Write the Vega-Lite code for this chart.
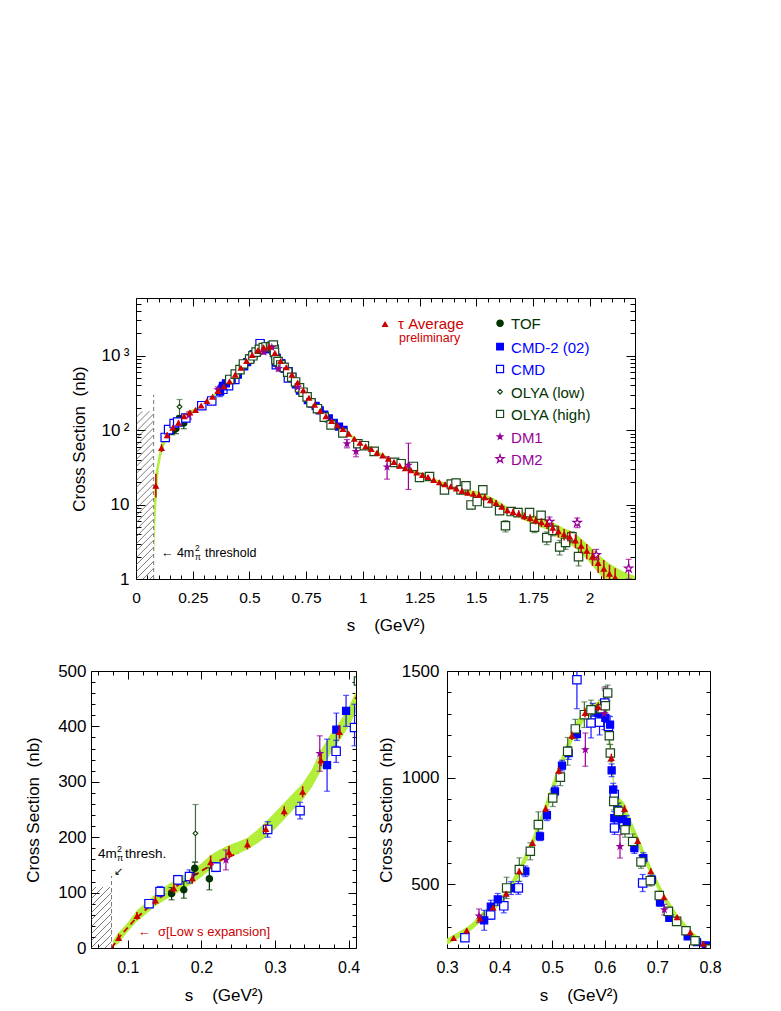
{
"$schema": "https://vega.github.io/schema/vega-lite/v6.json",
"padding": {"left": 24, "top": 297, "right": 0, "bottom": 0},
"background": "white",
"config": {
  "font": "Liberation Sans",
  "view": {"stroke": "black", "strokeWidth": 1},
  "axis": {"domain": false, "grid": false, "tickColor": "black", "tickWidth": 1, "labelColor": "black", "titleColor": "black", "titleFontWeight": "normal", "labelFontSize": 16, "titleFontSize": 17, "labelOverlap": false, "labelFlush": false, "labelFont": "Liberation Sans", "titleFont": "Liberation Sans"}
},
"datasets": {
  "tau": [
    {"s":0.0875,"v":18,"lo":12.5,"hi":26},{"s":0.1125,"v":58,"lo":51,"hi":65},{"s":0.1375,"v":86,"lo":78,"hi":94},{"s":0.1625,"v":108,"lo":99,"hi":117},{"s":0.1875,"v":126,"lo":116,"hi":136},{"s":0.2125,"v":155,"lo":143,"hi":167},{"s":0.2375,"v":173,"lo":162,"hi":184},{"s":0.2625,"v":187,"lo":178,"hi":196},{"s":0.2875,"v":215,"lo":206,"hi":224},{"s":0.3125,"v":247,"lo":238,"hi":256},{"s":0.3375,"v":282,"lo":272,"hi":292},{"s":0.3625,"v":339,"lo":328,"hi":350},{"s":0.3875,"v":390,"lo":378,"hi":402},{"s":0.4125,"v":455,"lo":442,"hi":468},{"s":0.4375,"v":560,"lo":546,"hi":574},{"s":0.4625,"v":693,"lo":678,"hi":708},{"s":0.4875,"v":854,"lo":838,"hi":870},{"s":0.5125,"v":1032,"lo":1014,"hi":1050},{"s":0.5375,"v":1196,"lo":1176,"hi":1216},{"s":0.5625,"v":1303,"lo":1282,"hi":1324},{"s":0.5875,"v":1331,"lo":1310,"hi":1352},{"s":0.6125,"v":1092,"lo":1072,"hi":1112},{"s":0.6375,"v":853,"lo":836,"hi":870},{"s":0.6625,"v":703,"lo":688,"hi":718},{"s":0.6875,"v":560,"lo":546,"hi":574},{"s":0.7125,"v":438,"lo":426,"hi":450},{"s":0.7375,"v":345,"lo":335,"hi":355},{"s":0.7625,"v":274,"lo":265,"hi":283},{"s":0.7875,"v":220,"lo":212,"hi":228},
    {"s":0.8125,"v":182,"lo":175,"hi":189},{"s":0.8375,"v":155,"lo":149,"hi":161},{"s":0.8625,"v":133,"lo":128,"hi":138},{"s":0.8875,"v":117,"lo":112,"hi":122},{"s":0.9125,"v":104,"lo":100,"hi":108},{"s":0.9375,"v":90,"lo":86,"hi":94},{"s":0.9625,"v":77,"lo":74,"hi":80},{"s":0.9875,"v":68,"lo":65,"hi":71},{"s":1.0125,"v":61,"lo":58,"hi":64},{"s":1.0375,"v":56,"lo":53,"hi":59},{"s":1.0625,"v":50,"lo":47.5,"hi":52.5},{"s":1.0875,"v":46,"lo":43.5,"hi":48.5},{"s":1.1125,"v":41.5,"lo":39,"hi":44},{"s":1.1375,"v":37.5,"lo":35.5,"hi":39.5},{"s":1.1625,"v":33.5,"lo":31.5,"hi":35.5},{"s":1.1875,"v":31,"lo":29,"hi":33},{"s":1.2125,"v":29,"lo":27.2,"hi":30.8},{"s":1.2375,"v":27,"lo":25.3,"hi":28.7},{"s":1.2625,"v":25,"lo":23.4,"hi":26.6},{"s":1.2875,"v":23.5,"lo":22,"hi":25},{"s":1.3125,"v":21.5,"lo":20,"hi":23},{"s":1.3375,"v":20,"lo":18.6,"hi":21.4},{"s":1.3625,"v":18.8,"lo":17.4,"hi":20.2},{"s":1.3875,"v":17.5,"lo":16.2,"hi":18.8},{"s":1.4125,"v":16.5,"lo":15.2,"hi":17.8},{"s":1.4375,"v":15.3,"lo":14.1,"hi":16.5},{"s":1.4625,"v":14.5,"lo":13.3,"hi":15.7},{"s":1.4875,"v":14,"lo":12.8,"hi":15.2},{"s":1.5125,"v":13.5,"lo":12.3,"hi":14.7},{"s":1.5375,"v":12.6,"lo":11.4,"hi":13.8},{"s":1.5625,"v":11.5,"lo":10.4,"hi":12.6},{"s":1.5875,"v":10.5,"lo":9.5,"hi":11.5},{"s":1.6125,"v":9.4,"lo":8.5,"hi":10.3},{"s":1.6375,"v":8.4,"lo":7.6,"hi":9.2},{"s":1.6625,"v":8.0,"lo":7.2,"hi":8.8},{"s":1.6875,"v":7.6,"lo":6.8,"hi":8.4},{"s":1.7125,"v":7.0,"lo":6.2,"hi":7.8},{"s":1.7375,"v":6.6,"lo":5.8,"hi":7.4},{"s":1.7625,"v":6.2,"lo":5.4,"hi":7.0},{"s":1.7875,"v":5.8,"lo":5.0,"hi":6.6},{"s":1.8125,"v":5.5,"lo":4.7,"hi":6.3},{"s":1.8375,"v":4.9,"lo":4.1,"hi":5.7},{"s":1.8625,"v":4.4,"lo":3.6,"hi":5.2},{"s":1.8875,"v":4.0,"lo":3.3,"hi":4.7},{"s":1.9125,"v":3.7,"lo":3.0,"hi":4.4},{"s":1.9375,"v":3.3,"lo":2.6,"hi":4.0},{"s":1.9625,"v":2.8,"lo":2.2,"hi":3.4},{"s":1.9875,"v":2.4,"lo":1.85,"hi":2.95},{"s":2.0125,"v":2.0,"lo":1.5,"hi":2.5},{"s":2.0375,"v":1.65,"lo":1.2,"hi":2.1},{"s":2.0625,"v":1.38,"lo":0.95,"hi":1.8},{"s":2.0875,"v":1.18,"lo":0.8,"hi":1.55},{"s":2.1125,"v":1.05,"lo":0.7,"hi":1.4}
  ],
  "band": [
    {"s":0.080,"lo":2,"hi":14},{"s":0.0875,"lo":8,"hi":28},{"s":0.1,"lo":30,"hi":46},{"s":0.1125,"lo":48,"hi":68},{"s":0.125,"lo":62,"hi":82},{"s":0.1375,"lo":76,"hi":98},{"s":0.15,"lo":86,"hi":110},{"s":0.1625,"lo":96,"hi":122},{"s":0.175,"lo":106,"hi":131},{"s":0.1875,"lo":116,"hi":140},{"s":0.2,"lo":128,"hi":153},{"s":0.2125,"lo":142,"hi":168},{"s":0.225,"lo":154,"hi":178},{"s":0.2375,"lo":163,"hi":186},{"s":0.25,"lo":170,"hi":192},{"s":0.2625,"lo":178,"hi":199},{"s":0.275,"lo":188,"hi":212},{"s":0.2875,"lo":200,"hi":228},{"s":0.3,"lo":215,"hi":245},{"s":0.3125,"lo":232,"hi":262},{"s":0.325,"lo":250,"hi":280},{"s":0.3375,"lo":267,"hi":297},{"s":0.35,"lo":290,"hi":322},{"s":0.3625,"lo":320,"hi":358},{"s":0.375,"lo":350,"hi":385},{"s":0.3875,"lo":374,"hi":408},{"s":0.4,"lo":400,"hi":435},{"s":0.4125,"lo":432,"hi":470},{"s":0.4375,"lo":537,"hi":583},{"s":0.4625,"lo":667,"hi":718},{"s":0.4875,"lo":825,"hi":882},{"s":0.5125,"lo":1000,"hi":1062},{"s":0.5375,"lo":1168,"hi":1226},{"s":0.5625,"lo":1276,"hi":1330},{"s":0.5875,"lo":1302,"hi":1358},{"s":0.6,"lo":1300,"hi":1360},{"s":0.605,"lo":1240,"hi":1320},{"s":0.6125,"lo":1050,"hi":1130},{"s":0.62,"lo":860,"hi":915},{"s":0.6275,"lo":830,"hi":905},{"s":0.6375,"lo":818,"hi":882},{"s":0.65,"lo":745,"hi":800},{"s":0.6625,"lo":677,"hi":728},{"s":0.6875,"lo":538,"hi":582},{"s":0.7125,"lo":420,"hi":456},{"s":0.7375,"lo":331,"hi":359},{"s":0.7625,"lo":262,"hi":286},{"s":0.7875,"lo":210,"hi":230},
    {"s":0.8125,"lo":173,"hi":191},{"s":0.8375,"lo":147,"hi":163},{"s":0.8625,"lo":126,"hi":140},{"s":0.8875,"lo":111,"hi":123},{"s":0.9125,"lo":98,"hi":110},{"s":0.9375,"lo":85,"hi":95},{"s":0.9625,"lo":73,"hi":81},{"s":0.9875,"lo":64,"hi":72},{"s":1.0125,"lo":58,"hi":65},{"s":1.0375,"lo":53,"hi":59},{"s":1.0625,"lo":47.5,"hi":52.5},{"s":1.0875,"lo":43.5,"hi":48.5},{"s":1.1125,"lo":39.5,"hi":43.5},{"s":1.1375,"lo":35.5,"hi":39.5},{"s":1.1625,"lo":31.8,"hi":35.2},{"s":1.1875,"lo":29.4,"hi":32.6},{"s":1.2125,"lo":27.5,"hi":30.5},{"s":1.2375,"lo":25.6,"hi":28.4},{"s":1.2625,"lo":23.7,"hi":26.3},{"s":1.2875,"lo":22.2,"hi":24.8},{"s":1.3125,"lo":20.3,"hi":22.7},{"s":1.3375,"lo":18.9,"hi":21.1},{"s":1.3625,"lo":17.7,"hi":19.9},{"s":1.3875,"lo":16.5,"hi":18.5},{"s":1.4125,"lo":15.4,"hi":17.6},{"s":1.4375,"lo":14.2,"hi":16.4},{"s":1.4625,"lo":13.3,"hi":15.7},{"s":1.4875,"lo":12.6,"hi":15.4},{"s":1.5125,"lo":12.0,"hi":15.0},{"s":1.5375,"lo":11.2,"hi":14.0},{"s":1.5625,"lo":10.2,"hi":12.8},{"s":1.5875,"lo":9.3,"hi":11.7},{"s":1.6125,"lo":8.4,"hi":10.4},{"s":1.6375,"lo":7.5,"hi":9.3},{"s":1.6625,"lo":7.1,"hi":8.9},{"s":1.6875,"lo":6.7,"hi":8.5},{"s":1.7125,"lo":6.1,"hi":7.9},{"s":1.7375,"lo":5.7,"hi":7.5},{"s":1.7625,"lo":5.3,"hi":7.1},{"s":1.7875,"lo":4.9,"hi":6.7},{"s":1.8125,"lo":4.6,"hi":6.4},{"s":1.8375,"lo":4.0,"hi":5.8},{"s":1.8625,"lo":3.6,"hi":5.3},{"s":1.8875,"lo":3.2,"hi":4.8},{"s":1.9125,"lo":2.9,"hi":4.5},{"s":1.9375,"lo":2.6,"hi":4.1},{"s":1.9625,"lo":2.2,"hi":3.5},{"s":1.9875,"lo":1.85,"hi":3.0},{"s":2.0125,"lo":1.5,"hi":2.55},{"s":2.0375,"lo":1.22,"hi":2.15},{"s":2.0625,"lo":1.0,"hi":1.85},{"s":2.0875,"lo":0.85,"hi":1.6},{"s":2.1125,"lo":0.75,"hi":1.45},{"s":2.15,"lo":0.6,"hi":1.25},{"s":2.2,"lo":0.5,"hi":1.1}
  ],
  "lowexp": [
    {"s":0.0784,"v":0},{"s":0.08,"v":4},{"s":0.085,"v":13},{"s":0.09,"v":22},{"s":0.1,"v":37},{"s":0.11,"v":52},{"s":0.12,"v":64},{"s":0.13,"v":76},{"s":0.14,"v":87},{"s":0.15,"v":97},{"s":0.16,"v":106},{"s":0.17,"v":115},{"s":0.18,"v":123},{"s":0.19,"v":131},{"s":0.2,"v":139},{"s":0.21,"v":147},{"s":0.22,"v":154},{"s":0.23,"v":161},{"s":0.24,"v":166},{"s":0.25,"v":171}
  ],
  "exp": [
    {"series":"TOF","s":0.1595,"v":98,"lo":87,"hi":109},{"series":"TOF","s":0.1761,"v":105,"lo":90,"hi":120},{"series":"TOF","s":0.191,"v":144,"lo":133,"hi":155},{"series":"TOF","s":0.2108,"v":125,"lo":105,"hi":145},
    {"series":"OLYA (low)","s":0.1919,"v":207,"lo":155,"hi":259},
    {"series":"CMD","s":0.1288,"v":80,"lo":75,"hi":85},{"series":"CMD","s":0.1437,"v":102,"lo":93,"hi":111},{"series":"CMD","s":0.168,"v":123,"lo":115,"hi":131},{"series":"CMD","s":0.1838,"v":129,"lo":117,"hi":141},{"series":"CMD","s":0.2198,"v":146,"lo":138,"hi":154},{"series":"CMD","s":0.29,"v":214,"lo":200,"hi":228},{"series":"CMD","s":0.334,"v":248,"lo":233,"hi":263},{"series":"CMD","s":0.383,"v":355,"lo":335,"hi":375},{"series":"CMD","s":0.408,"v":398,"lo":365,"hi":440},{"series":"CMD","s":0.4356,"v":482,"lo":452,"hi":512},{"series":"CMD","s":0.547,"v":1459,"lo":1323,"hi":1600},{"series":"CMD","s":0.5738,"v":1256,"lo":1186,"hi":1326},{"series":"CMD","s":0.59,"v":1260,"lo":1200,"hi":1320},{"series":"CMD","s":0.6,"v":1350,"lo":1290,"hi":1410},{"series":"CMD","s":0.607,"v":1240,"lo":1190,"hi":1290},{"series":"CMD","s":0.618,"v":920,"lo":880,"hi":960},{"series":"CMD","s":0.6185,"v":763,"lo":733,"hi":793},{"series":"CMD","s":0.636,"v":779,"lo":744,"hi":814},{"series":"CMD","s":0.672,"v":505,"lo":465,"hi":545},
    {"series":"CMD-2 (02)","s":0.3707,"v":330,"lo":283,"hi":377},{"series":"CMD-2 (02)","s":0.3833,"v":394,"lo":364,"hi":424},{"series":"CMD-2 (02)","s":0.3965,"v":428,"lo":400,"hi":456},{"series":"CMD-2 (02)","s":0.4217,"v":481,"lo":451,"hi":511},{"series":"CMD-2 (02)","s":0.449,"v":560,"lo":535,"hi":585},{"series":"CMD-2 (02)","s":0.4768,"v":724,"lo":704,"hi":744},{"series":"CMD-2 (02)","s":0.49,"v":823,"lo":798,"hi":848},{"series":"CMD-2 (02)","s":0.5053,"v":935,"lo":910,"hi":960},{"series":"CMD-2 (02)","s":0.5186,"v":1056,"lo":1031,"hi":1081},{"series":"CMD-2 (02)","s":0.5313,"v":1115,"lo":1085,"hi":1145},{"series":"CMD-2 (02)","s":0.547,"v":1204,"lo":1174,"hi":1234},{"series":"CMD-2 (02)","s":0.577,"v":1318,"lo":1288,"hi":1348},{"series":"CMD-2 (02)","s":0.5864,"v":1303,"lo":1273,"hi":1333},{"series":"CMD-2 (02)","s":0.595,"v":1300,"lo":1260,"hi":1340},{"series":"CMD-2 (02)","s":0.601,"v":1280,"lo":1240,"hi":1320},{"series":"CMD-2 (02)","s":0.61,"v":1248,"lo":1210,"hi":1286},{"series":"CMD-2 (02)","s":0.613,"v":1034,"lo":1004,"hi":1064},{"series":"CMD-2 (02)","s":0.616,"v":943,"lo":913,"hi":973},{"series":"CMD-2 (02)","s":0.618,"v":810,"lo":780,"hi":840},{"series":"CMD-2 (02)","s":0.6245,"v":849,"lo":819,"hi":879},{"series":"CMD-2 (02)","s":0.632,"v":805,"lo":775,"hi":835},{"series":"CMD-2 (02)","s":0.6416,"v":791,"lo":761,"hi":821},{"series":"CMD-2 (02)","s":0.6562,"v":669,"lo":644,"hi":694},{"series":"CMD-2 (02)","s":0.6733,"v":622,"lo":597,"hi":647},{"series":"CMD-2 (02)","s":0.6897,"v":521,"lo":501,"hi":541},{"series":"CMD-2 (02)","s":0.705,"v":414,"lo":396,"hi":432},{"series":"CMD-2 (02)","s":0.7227,"v":341,"lo":326,"hi":356},{"series":"CMD-2 (02)","s":0.7575,"v":255,"lo":243,"hi":267},{"series":"CMD-2 (02)","s":0.7753,"v":228,"lo":216,"hi":240},{"series":"CMD-2 (02)","s":0.792,"v":212,"lo":205,"hi":219},{"series":"CMD-2 (02)","s":0.81,"v":185,"lo":179,"hi":191},{"series":"CMD-2 (02)","s":0.83,"v":162,"lo":157,"hi":167},{"series":"CMD-2 (02)","s":0.85,"v":144,"lo":139,"hi":149},{"series":"CMD-2 (02)","s":0.872,"v":126,"lo":122,"hi":130},{"series":"CMD-2 (02)","s":0.895,"v":112,"lo":108,"hi":116},{"series":"CMD-2 (02)","s":0.915,"v":101,"lo":97,"hi":105},
    {"series":"OLYA (high)","s":0.4134,"v":482,"lo":432,"hi":532},{"series":"OLYA (high)","s":0.4375,"v":568,"lo":513,"hi":623},{"series":"OLYA (high)","s":0.4584,"v":654,"lo":614,"hi":694},{"series":"OLYA (high)","s":0.4737,"v":779,"lo":719,"hi":839},{"series":"OLYA (high)","s":0.501,"v":904,"lo":864,"hi":944},{"series":"OLYA (high)","s":0.5155,"v":1002,"lo":962,"hi":1042},{"series":"OLYA (high)","s":0.5294,"v":1123,"lo":1058,"hi":1188},{"series":"OLYA (high)","s":0.544,"v":1228,"lo":1183,"hi":1273},{"series":"OLYA (high)","s":0.5611,"v":1295,"lo":1235,"hi":1355},{"series":"OLYA (high)","s":0.5738,"v":1318,"lo":1273,"hi":1363},{"series":"OLYA (high)","s":0.593,"v":1323,"lo":1283,"hi":1363},{"series":"OLYA (high)","s":0.601,"v":1337,"lo":1247,"hi":1427},{"series":"OLYA (high)","s":0.6054,"v":1397,"lo":1360,"hi":1434},{"series":"OLYA (high)","s":0.6086,"v":1196,"lo":1156,"hi":1236},{"series":"OLYA (high)","s":0.6105,"v":1115,"lo":1075,"hi":1155},{"series":"OLYA (high)","s":0.617,"v":888,"lo":848,"hi":928},{"series":"OLYA (high)","s":0.6264,"v":841,"lo":801,"hi":881},{"series":"OLYA (high)","s":0.6384,"v":755,"lo":720,"hi":790},{"series":"OLYA (high)","s":0.653,"v":700,"lo":665,"hi":735},{"series":"OLYA (high)","s":0.6688,"v":604,"lo":574,"hi":634},{"series":"OLYA (high)","s":0.6865,"v":516,"lo":491,"hi":541},{"series":"OLYA (high)","s":0.7036,"v":446,"lo":426,"hi":466},{"series":"OLYA (high)","s":0.7208,"v":372,"lo":354,"hi":390},{"series":"OLYA (high)","s":0.7366,"v":325,"lo":310,"hi":340},{"series":"OLYA (high)","s":0.7544,"v":281,"lo":268,"hi":294},{"series":"OLYA (high)","s":0.7715,"v":234,"lo":222,"hi":246},
    {"series":"OLYA (high)","s":0.8,"v":195,"lo":183,"hi":207},{"series":"OLYA (high)","s":0.83,"v":150,"lo":141,"hi":159},{"series":"OLYA (high)","s":0.86,"v":118,"lo":111,"hi":125},{"series":"OLYA (high)","s":0.912,"v":92,"lo":86,"hi":98},{"series":"OLYA (high)","s":0.978,"v":66,"lo":62,"hi":70},{"series":"OLYA (high)","s":1.007,"v":62,"lo":58,"hi":66},{"series":"OLYA (high)","s":1.05,"v":52,"lo":49,"hi":55},{"series":"OLYA (high)","s":1.14,"v":37,"lo":34.5,"hi":39.5},{"series":"OLYA (high)","s":1.169,"v":35.5,"lo":33,"hi":38},{"series":"OLYA (high)","s":1.223,"v":32.6,"lo":30.3,"hi":34.9},{"series":"OLYA (high)","s":1.25,"v":23.2,"lo":21.2,"hi":25.2},{"series":"OLYA (high)","s":1.294,"v":23.9,"lo":21.9,"hi":25.9},{"series":"OLYA (high)","s":1.36,"v":15.8,"lo":14.2,"hi":17.5},{"series":"OLYA (high)","s":1.39,"v":18.9,"lo":17.3,"hi":20.5},{"series":"OLYA (high)","s":1.411,"v":19.5,"lo":17.9,"hi":21.1},{"series":"OLYA (high)","s":1.433,"v":15.8,"lo":14.3,"hi":17.3},{"series":"OLYA (high)","s":1.455,"v":17.9,"lo":16.3,"hi":19.5},{"series":"OLYA (high)","s":1.477,"v":9.9,"lo":8.8,"hi":11.0},{"series":"OLYA (high)","s":1.504,"v":11,"lo":9.8,"hi":12.2},{"series":"OLYA (high)","s":1.529,"v":15.8,"lo":14.3,"hi":17.3},{"series":"OLYA (high)","s":1.551,"v":10.5,"lo":9.4,"hi":11.6},{"series":"OLYA (high)","s":1.603,"v":8.3,"lo":7.4,"hi":9.2},{"series":"OLYA (high)","s":1.629,"v":5.2,"lo":4.3,"hi":6.1},{"series":"OLYA (high)","s":1.654,"v":8.07,"lo":7.2,"hi":8.9},{"series":"OLYA (high)","s":1.684,"v":7.8,"lo":7.0,"hi":8.6},{"series":"OLYA (high)","s":1.735,"v":7.8,"lo":7.0,"hi":8.6},{"series":"OLYA (high)","s":1.757,"v":4.97,"lo":4.2,"hi":5.8},{"series":"OLYA (high)","s":1.786,"v":7.2,"lo":6.4,"hi":8.0},{"series":"OLYA (high)","s":1.811,"v":3.6,"lo":2.9,"hi":4.3},{"series":"OLYA (high)","s":1.838,"v":4.5,"lo":3.8,"hi":5.2},{"series":"OLYA (high)","s":1.868,"v":2.7,"lo":2.1,"hi":3.3},{"series":"OLYA (high)","s":1.894,"v":3.1,"lo":2.5,"hi":3.7},{"series":"OLYA (high)","s":1.922,"v":3.7,"lo":3.1,"hi":4.3},{"series":"OLYA (high)","s":1.951,"v":2.0,"lo":1.5,"hi":2.6},
    {"series":"DM1","s":0.2333,"v":159,"lo":141,"hi":177},{"series":"DM1","s":0.3608,"v":351,"lo":319,"hi":383},{"series":"DM1","s":0.563,"v":1131,"lo":1053,"hi":1209},{"series":"DM1","s":0.599,"v":1300,"lo":1225,"hi":1420},{"series":"DM1","s":0.6289,"v":677,"lo":622,"hi":732},{"series":"DM1","s":0.7132,"v":380,"lo":355,"hi":405},{"series":"DM1","s":0.93,"v":66,"lo":58,"hi":75},{"series":"DM1","s":0.97,"v":52,"lo":44,"hi":66},{"series":"DM1","s":1.107,"v":32,"lo":22,"hi":44},{"series":"DM1","s":1.201,"v":34,"lo":16,"hi":67},
    {"series":"DM2","s":1.823,"v":5.9,"lo":5.2,"hi":6.8},{"series":"DM2","s":1.945,"v":5.7,"lo":4.9,"hi":6.6},{"series":"DM2","s":2.029,"v":2.1,"lo":1.8,"hi":2.5},{"series":"DM2","s":2.172,"v":1.39,"lo":1.0,"hi":1.84}
  ],
  "legendExp": [
    {"series":"TOF","s":1.605,"v":2743},{"series":"CMD-2 (02)","s":1.605,"v":1330},{"series":"CMD","s":1.605,"v":666},{"series":"OLYA (low)","s":1.605,"v":330},{"series":"OLYA (high)","s":1.605,"v":165.5},{"series":"DM1","s":1.605,"v":81.9},{"series":"DM2","s":1.605,"v":41.1}
  ],
  "legendTau": [{"s":1.098,"v":2685,"label":"τ Average","note":"preliminary"}],
  "hatchT": [
    {"x":0.0618,"y":1,"x2":0.0779,"y2":1.122},{"x":0.0309,"y":1,"x2":0.0779,"y2":1.394},{"x":0,"y":1,"x2":0.0779,"y2":1.732},{"x":0,"y":1.243,"x2":0.0779,"y2":2.152},{"x":0,"y":1.544,"x2":0.0779,"y2":2.674},{"x":0,"y":1.919,"x2":0.0779,"y2":3.323},{"x":0,"y":2.384,"x2":0.0779,"y2":4.13},{"x":0,"y":2.963,"x2":0.0779,"y2":5.132},{"x":0,"y":3.681,"x2":0.0779,"y2":6.377},{"x":0,"y":4.575,"x2":0.0779,"y2":7.925},{"x":0,"y":5.685,"x2":0.0779,"y2":9.847},{"x":0,"y":7.065,"x2":0.0779,"y2":12.24},{"x":0,"y":8.779,"x2":0.0779,"y2":15.21},{"x":0,"y":10.91,"x2":0.0779,"y2":18.9},{"x":0,"y":13.56,"x2":0.0779,"y2":23.48},{"x":0,"y":16.85,"x2":0.0779,"y2":29.18},{"x":0,"y":20.94,"x2":0.0779,"y2":36.26},{"x":0,"y":26.02,"x2":0.0779,"y2":45.06},{"x":0,"y":32.32,"x2":0.0779,"y2":55.98},{"x":0,"y":40.17,"x2":0.0779,"y2":69.56},{"x":0,"y":49.91,"x2":0.0779,"y2":86.44},{"x":0,"y":62.02,"x2":0.0779,"y2":107.4},{"x":0,"y":77.07,"x2":0.0779,"y2":133.5},{"x":0,"y":95.74,"x2":0.0779,"y2":165.9},{"x":0,"y":119.0,"x2":0.0587,"y2":179.8},{"x":0,"y":147.9,"x2":0.0278,"y2":179.8}
  ],
  "hatchB": [
    {"x":0.069,"y":0,"x2":0.0779,"y2":11.7},{"x":0.0595,"y":0,"x2":0.0779,"y2":24.4},{"x":0.05,"y":0,"x2":0.0779,"y2":37},{"x":0.05,"y":12.6,"x2":0.0779,"y2":49.6},{"x":0.05,"y":25.3,"x2":0.0779,"y2":62.3},{"x":0.05,"y":37.9,"x2":0.0779,"y2":74.9},{"x":0.05,"y":50.5,"x2":0.0779,"y2":87.5},{"x":0.05,"y":63.2,"x2":0.0779,"y2":100.2},{"x":0.05,"y":75.8,"x2":0.0758,"y2":110.1},{"x":0.05,"y":88.4,"x2":0.0663,"y2":110.1},{"x":0.05,"y":101.1,"x2":0.0568,"y2":110.1}
  ],
  "thrT": [{"s":0.0779,"y1":1,"y2":300}],
  "thrB": [{"s":0.0779,"y1":0,"y2":130}]
},
"vconcat": [
  {"hconcat": [
    {"width": 45, "height": 10, "data": {"values": [{}]}, "mark": {"type": "point", "opacity": 0}, "view": {"stroke": "white"}},
    {"width": 499, "height": 281,
     "resolve": {"axis": {"x": "independent", "y": "independent"}},
     "layer": [
      {"data": {"values": [{}]}, "mark": {"type": "point", "opacity": 0},
       "encoding": {
        "x": {"datum": 1, "type": "quantitative", "scale": {"domain": [0, 2.2], "nice": false, "zero": false}, "axis": {"orient": "bottom", "values": [0,0.25,0.5,0.75,1,1.25,1.5,1.75,2], "format": ".3~g", "tickSize": -8, "labelPadding": 19, "labelFontSize": 15.5, "title": "s\u00a0\u00a0\u00a0\u00a0(GeV²)", "titlePadding": 12}},
        "y": {"datum": 10, "type": "quantitative", "scale": {"type": "log", "domain": [1, 6000], "nice": false}, "axis": {"orient": "left", "values": [1,10,100,1000], "labelExpr": "datum.value == 100 ? '10\u2009²' : datum.value == 1000 ? '10\u2009³' : datum.value == 10 ? '10' : '1'", "tickSize": -9, "labelPadding": 16, "labelFontSize": 17, "title": "Cross Section\u00a0\u00a0(nb)", "titlePadding": 13}}
       }},
      {"data": {"values": [{}]}, "mark": {"type": "point", "opacity": 0},
       "encoding": {
        "x": {"datum": 1, "type": "quantitative", "scale": {"domain": [0, 2.2], "nice": false, "zero": false}, "axis": {"orient": "bottom", "values": [0.05,0.1,0.15,0.2,0.3,0.35,0.4,0.45,0.55,0.6,0.65,0.7,0.8,0.85,0.9,0.95,1.05,1.1,1.15,1.2,1.3,1.35,1.4,1.45,1.55,1.6,1.65,1.7,1.8,1.85,1.9,1.95,2.05,2.1,2.15], "tickSize": -4, "labels": false, "title": null}},
        "y": {"datum": 10, "type": "quantitative", "scale": {"type": "log", "domain": [1, 6000], "nice": false}, "axis": {"orient": "left", "values": [2,3,4,5,6,7,8,9,20,30,40,50,60,70,80,90,200,300,400,500,600,700,800,900,2000,3000,4000,5000], "tickSize": -5, "labels": false, "title": null}}
       }},
      {"data": {"values": [{}]}, "mark": {"type": "point", "opacity": 0},
       "encoding": {
        "x": {"datum": 1, "type": "quantitative", "scale": {"domain": [0, 2.2], "nice": false, "zero": false}, "axis": {"orient": "top", "values": [0,0.25,0.5,0.75,1,1.25,1.5,1.75,2], "tickSize": -8, "labels": false, "title": null}},
        "y": {"datum": 10, "type": "quantitative", "scale": {"type": "log", "domain": [1, 6000], "nice": false}, "axis": {"orient": "right", "values": [1,10,100,1000], "tickSize": -9, "labels": false, "title": null}}
       }},
      {"data": {"values": [{}]}, "mark": {"type": "point", "opacity": 0},
       "encoding": {
        "x": {"datum": 1, "type": "quantitative", "scale": {"domain": [0, 2.2], "nice": false, "zero": false}, "axis": {"orient": "top", "values": [0.05,0.1,0.15,0.2,0.3,0.35,0.4,0.45,0.55,0.6,0.65,0.7,0.8,0.85,0.9,0.95,1.05,1.1,1.15,1.2,1.3,1.35,1.4,1.45,1.55,1.6,1.65,1.7,1.8,1.85,1.9,1.95,2.05,2.1,2.15], "tickSize": -4, "labels": false, "title": null}},
        "y": {"datum": 10, "type": "quantitative", "scale": {"type": "log", "domain": [1, 6000], "nice": false}, "axis": {"orient": "right", "values": [2,3,4,5,6,7,8,9,20,30,40,50,60,70,80,90,200,300,400,500,600,700,800,900,2000,3000,4000,5000], "tickSize": -5, "labels": false, "title": null}}
       }},
      {"data": {"name": "band"}, "mark": {"type": "area", "color": "#b2ee3a", "clip": true},
       "encoding": {"x": {"field": "s", "type": "quantitative", "scale": {"domain": [0, 2.2], "nice": false, "zero": false}, "axis": null}, "y": {"field": "lo", "type": "quantitative", "scale": {"type": "log", "domain": [1, 6000], "nice": false}, "axis": null}, "y2": {"field": "hi"}}},
      {"data": {"name": "hatchT"}, "mark": {"type": "rule", "color": "#444444", "strokeWidth": 0.7, "clip": true},
       "encoding": {"x": {"field": "x", "type": "quantitative", "scale": {"domain": [0, 2.2], "nice": false, "zero": false}, "axis": null}, "y": {"field": "y", "type": "quantitative", "scale": {"type": "log", "domain": [1, 6000], "nice": false}, "axis": null}, "x2": {"field": "x2"}, "y2": {"field": "y2"}}},
      {"data": {"name": "thrT"}, "mark": {"type": "rule", "color": "#777777", "strokeWidth": 1, "strokeDash": [4, 3], "clip": true},
       "encoding": {"x": {"field": "s", "type": "quantitative", "scale": {"domain": [0, 2.2], "nice": false, "zero": false}, "axis": null}, "y": {"field": "y1", "type": "quantitative", "scale": {"type": "log", "domain": [1, 6000], "nice": false}, "axis": null}, "y2": {"field": "y2"}}},
      {"data": {"name": "exp"}, "mark": {"type": "rule", "strokeWidth": 1.2, "clip": true},
       "encoding": {"x": {"field": "s", "type": "quantitative", "scale": {"domain": [0, 2.2], "nice": false, "zero": false}, "axis": null}, "y": {"field": "lo", "type": "quantitative", "scale": {"type": "log", "domain": [1, 6000], "nice": false}, "axis": null}, "y2": {"field": "hi"},
        "color": {"condition": [{"test": "datum.series == 'TOF'", "value": "#003300"}, {"test": "datum.series == 'CMD-2 (02)' || datum.series == 'CMD'", "value": "#1515ff"}, {"test": "datum.series == 'DM1' || datum.series == 'DM2'", "value": "#990099"}], "value": "#3d6b3d"}}},
      {"data": {"name": "exp"}, "mark": {"type": "tick", "orient": "horizontal", "size": 6, "thickness": 1.2, "clip": true},
       "encoding": {"x": {"field": "s", "type": "quantitative", "scale": {"domain": [0, 2.2], "nice": false, "zero": false}, "axis": null}, "y": {"field": "lo", "type": "quantitative", "scale": {"type": "log", "domain": [1, 6000], "nice": false}, "axis": null},
        "color": {"condition": [{"test": "datum.series == 'TOF'", "value": "#003300"}, {"test": "datum.series == 'CMD-2 (02)' || datum.series == 'CMD'", "value": "#1515ff"}, {"test": "datum.series == 'DM1' || datum.series == 'DM2'", "value": "#990099"}], "value": "#3d6b3d"}}},
      {"data": {"name": "exp"}, "mark": {"type": "tick", "orient": "horizontal", "size": 6, "thickness": 1.2, "clip": true},
       "encoding": {"x": {"field": "s", "type": "quantitative", "scale": {"domain": [0, 2.2], "nice": false, "zero": false}, "axis": null}, "y": {"field": "hi", "type": "quantitative", "scale": {"type": "log", "domain": [1, 6000], "nice": false}, "axis": null},
        "color": {"condition": [{"test": "datum.series == 'TOF'", "value": "#003300"}, {"test": "datum.series == 'CMD-2 (02)' || datum.series == 'CMD'", "value": "#1515ff"}, {"test": "datum.series == 'DM1' || datum.series == 'DM2'", "value": "#990099"}], "value": "#3d6b3d"}}},
      {"data": {"name": "exp"}, "mark": {"type": "point", "opacity": 1, "strokeWidth": 1.2, "clip": true},
       "encoding": {"x": {"field": "s", "type": "quantitative", "scale": {"domain": [0, 2.2], "nice": false, "zero": false}, "axis": null}, "y": {"field": "v", "type": "quantitative", "scale": {"type": "log", "domain": [1, 6000], "nice": false}, "axis": null},
        "shape": {"field": "series", "type": "nominal", "scale": {"domain": ["TOF","CMD-2 (02)","CMD","OLYA (low)","OLYA (high)","DM1","DM2"], "range": ["circle","square","square","diamond","square","M0,-1L0.2245,-0.309L0.951,-0.309L0.3633,0.118L0.5878,0.809L0,0.382L-0.5878,0.809L-0.3633,0.118L-0.951,-0.309L-0.2245,-0.309Z","M0,-1L0.2245,-0.309L0.951,-0.309L0.3633,0.118L0.5878,0.809L0,0.382L-0.5878,0.809L-0.3633,0.118L-0.951,-0.309L-0.2245,-0.309Z"]}, "legend": null},
        "stroke": {"condition": [{"test": "datum.series == 'TOF'", "value": "#003300"}, {"test": "datum.series == 'CMD-2 (02)' || datum.series == 'CMD'", "value": "#0000ff"}, {"test": "datum.series == 'DM1' || datum.series == 'DM2'", "value": "#990099"}], "value": "#1a4a1a"},
        "fill": {"condition": [{"test": "datum.series == 'TOF'", "value": "#003300"}, {"test": "datum.series == 'CMD-2 (02)'", "value": "#0000ff"}, {"test": "datum.series == 'DM1'", "value": "#990099"}], "value": "#ffffff"},
        "size": {"condition": [{"test": "datum.series == 'TOF'", "value": 40}, {"test": "datum.series == 'CMD-2 (02)'", "value": 50}, {"test": "datum.series == 'OLYA (low)'", "value": 22}, {"test": "datum.series == 'DM1'", "value": 30}, {"test": "datum.series == 'DM2'", "value": 75}], "value": 70}
       }},
      {"data": {"name": "tau"}, "mark": {"type": "rule", "color": "#cc0000", "strokeWidth": 1.5, "clip": true},
       "encoding": {"x": {"field": "s", "type": "quantitative", "scale": {"domain": [0, 2.2], "nice": false, "zero": false}, "axis": null}, "y": {"field": "lo", "type": "quantitative", "scale": {"type": "log", "domain": [1, 6000], "nice": false}, "axis": null}, "y2": {"field": "hi"}}},
      {"data": {"name": "tau"}, "mark": {"type": "point", "shape": "triangle-up", "filled": true, "color": "#cc0000", "size": 50, "opacity": 1, "clip": true},
       "encoding": {"x": {"field": "s", "type": "quantitative", "scale": {"domain": [0, 2.2], "nice": false, "zero": false}, "axis": null}, "y": {"field": "v", "type": "quantitative", "scale": {"type": "log", "domain": [1, 6000], "nice": false}, "axis": null}}},
      {"data": {"name": "legendExp"}, "mark": {"type": "point", "opacity": 1, "strokeWidth": 1.2},
       "encoding": {"x": {"field": "s", "type": "quantitative", "scale": {"domain": [0, 2.2], "nice": false, "zero": false}, "axis": null}, "y": {"field": "v", "type": "quantitative", "scale": {"type": "log", "domain": [1, 6000], "nice": false}, "axis": null},
        "shape": {"field": "series", "type": "nominal", "scale": {"domain": ["TOF","CMD-2 (02)","CMD","OLYA (low)","OLYA (high)","DM1","DM2"], "range": ["circle","square","square","diamond","square","M0,-1L0.2245,-0.309L0.951,-0.309L0.3633,0.118L0.5878,0.809L0,0.382L-0.5878,0.809L-0.3633,0.118L-0.951,-0.309L-0.2245,-0.309Z","M0,-1L0.2245,-0.309L0.951,-0.309L0.3633,0.118L0.5878,0.809L0,0.382L-0.5878,0.809L-0.3633,0.118L-0.951,-0.309L-0.2245,-0.309Z"]}, "legend": null},
        "stroke": {"condition": [{"test": "datum.series == 'TOF'", "value": "#003300"}, {"test": "datum.series == 'CMD-2 (02)' || datum.series == 'CMD'", "value": "#0000ff"}, {"test": "datum.series == 'DM1' || datum.series == 'DM2'", "value": "#990099"}], "value": "#1a4a1a"},
        "fill": {"condition": [{"test": "datum.series == 'TOF'", "value": "#003300"}, {"test": "datum.series == 'CMD-2 (02)'", "value": "#0000ff"}, {"test": "datum.series == 'DM1'", "value": "#990099"}], "value": "#ffffff"},
        "size": {"condition": [{"test": "datum.series == 'TOF'", "value": 40}, {"test": "datum.series == 'CMD-2 (02)'", "value": 45}, {"test": "datum.series == 'OLYA (low)'", "value": 22}, {"test": "datum.series == 'DM1'", "value": 30}, {"test": "datum.series == 'DM2'", "value": 70}], "value": 50}
       }},
      {"data": {"name": "legendExp"}, "mark": {"type": "text", "align": "left", "baseline": "middle", "fontSize": 15, "dx": 11, "dy": 1},
       "encoding": {"x": {"field": "s", "type": "quantitative", "scale": {"domain": [0, 2.2], "nice": false, "zero": false}, "axis": null}, "y": {"field": "v", "type": "quantitative", "scale": {"type": "log", "domain": [1, 6000], "nice": false}, "axis": null}, "text": {"field": "series"},
        "color": {"condition": [{"test": "datum.series == 'CMD-2 (02)' || datum.series == 'CMD'", "value": "#0000ff"}, {"test": "datum.series == 'DM1' || datum.series == 'DM2'", "value": "#990099"}], "value": "#003300"}}},
      {"data": {"name": "legendTau"}, "mark": {"type": "point", "shape": "triangle-up", "filled": true, "color": "#cc0000", "size": 50, "opacity": 1},
       "encoding": {"x": {"field": "s", "type": "quantitative", "scale": {"domain": [0, 2.2], "nice": false, "zero": false}, "axis": null}, "y": {"field": "v", "type": "quantitative", "scale": {"type": "log", "domain": [1, 6000], "nice": false}, "axis": null}}},
      {"data": {"name": "legendTau"}, "mark": {"type": "text", "align": "left", "baseline": "middle", "fontSize": 15, "dx": 13, "dy": 0, "color": "#cc0000"},
       "encoding": {"x": {"field": "s", "type": "quantitative", "scale": {"domain": [0, 2.2], "nice": false, "zero": false}, "axis": null}, "y": {"field": "v", "type": "quantitative", "scale": {"type": "log", "domain": [1, 6000], "nice": false}, "axis": null}, "text": {"field": "label"}}},
      {"data": {"name": "legendTau"}, "mark": {"type": "text", "align": "left", "baseline": "middle", "fontSize": 12.5, "dx": 14, "dy": 14, "color": "#cc0000"},
       "encoding": {"x": {"field": "s", "type": "quantitative", "scale": {"domain": [0, 2.2], "nice": false, "zero": false}, "axis": null}, "y": {"field": "v", "type": "quantitative", "scale": {"type": "log", "domain": [1, 6000], "nice": false}, "axis": null}, "text": {"field": "note"}}},
      {"data": {"values": [{"s": 0.11, "v": 2.0, "t": "← 4m"}]}, "mark": {"type": "text", "align": "left", "baseline": "alphabetic", "fontSize": 12.5, "color": "black"},
       "encoding": {"x": {"field": "s", "type": "quantitative", "scale": {"domain": [0, 2.2], "nice": false, "zero": false}, "axis": null}, "y": {"field": "v", "type": "quantitative", "scale": {"type": "log", "domain": [1, 6000], "nice": false}, "axis": null}, "text": {"field": "t"}}},
      {"data": {"values": [{"s": 0.11, "v": 2.0, "t": "2"}]}, "mark": {"type": "text", "align": "left", "baseline": "alphabetic", "fontSize": 8.5, "dx": 34, "dy": -6, "color": "black"},
       "encoding": {"x": {"field": "s", "type": "quantitative", "scale": {"domain": [0, 2.2], "nice": false, "zero": false}, "axis": null}, "y": {"field": "v", "type": "quantitative", "scale": {"type": "log", "domain": [1, 6000], "nice": false}, "axis": null}, "text": {"field": "t"}}},
      {"data": {"values": [{"s": 0.11, "v": 2.0, "t": "π"}]}, "mark": {"type": "text", "align": "left", "baseline": "alphabetic", "fontSize": 8.5, "dx": 34, "dy": 3, "color": "black"},
       "encoding": {"x": {"field": "s", "type": "quantitative", "scale": {"domain": [0, 2.2], "nice": false, "zero": false}, "axis": null}, "y": {"field": "v", "type": "quantitative", "scale": {"type": "log", "domain": [1, 6000], "nice": false}, "axis": null}, "text": {"field": "t"}}},
      {"data": {"values": [{"s": 0.11, "v": 2.0, "t": "threshold"}]}, "mark": {"type": "text", "align": "left", "baseline": "alphabetic", "fontSize": 12.5, "dx": 44, "color": "black"},
       "encoding": {"x": {"field": "s", "type": "quantitative", "scale": {"domain": [0, 2.2], "nice": false, "zero": false}, "axis": null}, "y": {"field": "v", "type": "quantitative", "scale": {"type": "log", "domain": [1, 6000], "nice": false}, "axis": null}, "text": {"field": "t"}}}
     ]}
  ], "spacing": 0, "bounds": "flush"},
  {"hconcat": [
    {"width": 265, "height": 277,
     "resolve": {"axis": {"x": "independent", "y": "independent"}},
     "layer": [
      {"data": {"values": [{}]}, "mark": {"type": "point", "opacity": 0},
       "encoding": {
        "x": {"datum": 0.2, "type": "quantitative", "scale": {"domain": [0.05, 0.41], "nice": false, "zero": false}, "axis": {"orient": "bottom", "values": [0.1,0.2,0.3,0.4], "format": ".1f", "tickSize": -8, "labelPadding": 19, "title": "s\u00a0\u00a0\u00a0\u00a0(GeV²)", "titlePadding": 12}},
        "y": {"datum": 100, "type": "quantitative", "scale": {"domain": [0, 500], "nice": false, "zero": false}, "axis": {"orient": "left", "values": [0,100,200,300,400,500], "format": "d", "tickSize": -8, "labelPadding": 13, "labelFontSize": 17, "title": "Cross Section\u00a0\u00a0(nb)", "titlePadding": 15}}
       }},
      {"data": {"values": [{}]}, "mark": {"type": "point", "opacity": 0},
       "encoding": {
        "x": {"datum": 0.2, "type": "quantitative", "scale": {"domain": [0.05, 0.41], "nice": false, "zero": false}, "axis": {"orient": "bottom", "values": [0.06,0.08,0.12,0.14,0.16,0.18,0.22,0.24,0.26,0.28,0.32,0.34,0.36,0.38], "tickSize": -4, "labels": false, "title": null}},
        "y": {"datum": 100, "type": "quantitative", "scale": {"domain": [0, 500], "nice": false, "zero": false}, "axis": {"orient": "left", "values": [20,40,60,80,120,140,160,180,220,240,260,280,320,340,360,380,420,440,460,480], "tickSize": -4, "labels": false, "title": null}}
       }},
      {"data": {"values": [{}]}, "mark": {"type": "point", "opacity": 0},
       "encoding": {
        "x": {"datum": 0.2, "type": "quantitative", "scale": {"domain": [0.05, 0.41], "nice": false, "zero": false}, "axis": {"orient": "top", "values": [0.1,0.2,0.3,0.4], "tickSize": -8, "labels": false, "title": null}},
        "y": {"datum": 100, "type": "quantitative", "scale": {"domain": [0, 500], "nice": false, "zero": false}, "axis": {"orient": "right", "values": [0,100,200,300,400,500], "tickSize": -8, "labels": false, "title": null}}
       }},
      {"data": {"values": [{}]}, "mark": {"type": "point", "opacity": 0},
       "encoding": {
        "x": {"datum": 0.2, "type": "quantitative", "scale": {"domain": [0.05, 0.41], "nice": false, "zero": false}, "axis": {"orient": "top", "values": [0.06,0.08,0.12,0.14,0.16,0.18,0.22,0.24,0.26,0.28,0.32,0.34,0.36,0.38], "tickSize": -4, "labels": false, "title": null}},
        "y": {"datum": 100, "type": "quantitative", "scale": {"domain": [0, 500], "nice": false, "zero": false}, "axis": {"orient": "right", "values": [20,40,60,80,120,140,160,180,220,240,260,280,320,340,360,380,420,440,460,480], "tickSize": -4, "labels": false, "title": null}}
       }},
      {"data": {"name": "band"}, "mark": {"type": "area", "color": "#b2ee3a", "clip": true},
       "encoding": {"x": {"field": "s", "type": "quantitative", "scale": {"domain": [0.05, 0.41], "nice": false, "zero": false}, "axis": null}, "y": {"field": "lo", "type": "quantitative", "scale": {"domain": [0, 500], "nice": false, "zero": false}, "axis": null}, "y2": {"field": "hi"}}},
      {"data": {"name": "hatchB"}, "mark": {"type": "rule", "color": "#444444", "strokeWidth": 0.7, "clip": true},
       "encoding": {"x": {"field": "x", "type": "quantitative", "scale": {"domain": [0.05, 0.41], "nice": false, "zero": false}, "axis": null}, "y": {"field": "y", "type": "quantitative", "scale": {"domain": [0, 500], "nice": false, "zero": false}, "axis": null}, "x2": {"field": "x2"}, "y2": {"field": "y2"}}},
      {"data": {"name": "thrB"}, "mark": {"type": "rule", "color": "#777777", "strokeWidth": 1, "strokeDash": [4, 3], "clip": true},
       "encoding": {"x": {"field": "s", "type": "quantitative", "scale": {"domain": [0.05, 0.41], "nice": false, "zero": false}, "axis": null}, "y": {"field": "y1", "type": "quantitative", "scale": {"domain": [0, 500], "nice": false, "zero": false}, "axis": null}, "y2": {"field": "y2"}}},
      {"data": {"name": "lowexp"}, "mark": {"type": "line", "color": "#cc0000", "strokeWidth": 1.8, "strokeDash": [6, 4], "clip": true},
       "encoding": {"x": {"field": "s", "type": "quantitative", "scale": {"domain": [0.05, 0.41], "nice": false, "zero": false}, "axis": null}, "y": {"field": "v", "type": "quantitative", "scale": {"domain": [0, 500], "nice": false, "zero": false}, "axis": null}}},
      {"data": {"name": "exp"}, "mark": {"type": "rule", "strokeWidth": 1.2, "clip": true},
       "encoding": {"x": {"field": "s", "type": "quantitative", "scale": {"domain": [0.05, 0.41], "nice": false, "zero": false}, "axis": null}, "y": {"field": "lo", "type": "quantitative", "scale": {"domain": [0, 500], "nice": false, "zero": false}, "axis": null}, "y2": {"field": "hi"},
        "color": {"condition": [{"test": "datum.series == 'TOF'", "value": "#003300"}, {"test": "datum.series == 'CMD-2 (02)' || datum.series == 'CMD'", "value": "#1515ff"}, {"test": "datum.series == 'DM1' || datum.series == 'DM2'", "value": "#990099"}], "value": "#3d6b3d"}}},
      {"data": {"name": "exp"}, "mark": {"type": "tick", "orient": "horizontal", "size": 6, "thickness": 1.2, "clip": true},
       "encoding": {"x": {"field": "s", "type": "quantitative", "scale": {"domain": [0.05, 0.41], "nice": false, "zero": false}, "axis": null}, "y": {"field": "lo", "type": "quantitative", "scale": {"domain": [0, 500], "nice": false, "zero": false}, "axis": null},
        "color": {"condition": [{"test": "datum.series == 'TOF'", "value": "#003300"}, {"test": "datum.series == 'CMD-2 (02)' || datum.series == 'CMD'", "value": "#1515ff"}, {"test": "datum.series == 'DM1' || datum.series == 'DM2'", "value": "#990099"}], "value": "#3d6b3d"}}},
      {"data": {"name": "exp"}, "mark": {"type": "tick", "orient": "horizontal", "size": 6, "thickness": 1.2, "clip": true},
       "encoding": {"x": {"field": "s", "type": "quantitative", "scale": {"domain": [0.05, 0.41], "nice": false, "zero": false}, "axis": null}, "y": {"field": "hi", "type": "quantitative", "scale": {"domain": [0, 500], "nice": false, "zero": false}, "axis": null},
        "color": {"condition": [{"test": "datum.series == 'TOF'", "value": "#003300"}, {"test": "datum.series == 'CMD-2 (02)' || datum.series == 'CMD'", "value": "#1515ff"}, {"test": "datum.series == 'DM1' || datum.series == 'DM2'", "value": "#990099"}], "value": "#3d6b3d"}}},
      {"data": {"name": "exp"}, "mark": {"type": "point", "opacity": 1, "strokeWidth": 1.2, "clip": true},
       "encoding": {"x": {"field": "s", "type": "quantitative", "scale": {"domain": [0.05, 0.41], "nice": false, "zero": false}, "axis": null}, "y": {"field": "v", "type": "quantitative", "scale": {"domain": [0, 500], "nice": false, "zero": false}, "axis": null},
        "shape": {"field": "series", "type": "nominal", "scale": {"domain": ["TOF","CMD-2 (02)","CMD","OLYA (low)","OLYA (high)","DM1","DM2"], "range": ["circle","square","square","diamond","square","M0,-1L0.2245,-0.309L0.951,-0.309L0.3633,0.118L0.5878,0.809L0,0.382L-0.5878,0.809L-0.3633,0.118L-0.951,-0.309L-0.2245,-0.309Z","M0,-1L0.2245,-0.309L0.951,-0.309L0.3633,0.118L0.5878,0.809L0,0.382L-0.5878,0.809L-0.3633,0.118L-0.951,-0.309L-0.2245,-0.309Z"]}, "legend": null},
        "stroke": {"condition": [{"test": "datum.series == 'TOF'", "value": "#003300"}, {"test": "datum.series == 'CMD-2 (02)' || datum.series == 'CMD'", "value": "#0000ff"}, {"test": "datum.series == 'DM1' || datum.series == 'DM2'", "value": "#990099"}], "value": "#1a4a1a"},
        "fill": {"condition": [{"test": "datum.series == 'TOF'", "value": "#003300"}, {"test": "datum.series == 'CMD-2 (02)'", "value": "#0000ff"}, {"test": "datum.series == 'DM1'", "value": "#990099"}], "value": "#ffffff"},
        "size": {"condition": [{"test": "datum.series == 'TOF'", "value": 40}, {"test": "datum.series == 'CMD-2 (02)'", "value": 50}, {"test": "datum.series == 'OLYA (low)'", "value": 22}, {"test": "datum.series == 'DM1'", "value": 30}, {"test": "datum.series == 'DM2'", "value": 75}], "value": 70}
       }},
      {"data": {"name": "tau"}, "mark": {"type": "rule", "color": "#cc0000", "strokeWidth": 1.5, "clip": true},
       "encoding": {"x": {"field": "s", "type": "quantitative", "scale": {"domain": [0.05, 0.41], "nice": false, "zero": false}, "axis": null}, "y": {"field": "lo", "type": "quantitative", "scale": {"domain": [0, 500], "nice": false, "zero": false}, "axis": null}, "y2": {"field": "hi"}}},
      {"data": {"name": "tau"}, "mark": {"type": "point", "shape": "triangle-up", "filled": true, "color": "#cc0000", "size": 50, "opacity": 1, "clip": true},
       "encoding": {"x": {"field": "s", "type": "quantitative", "scale": {"domain": [0.05, 0.41], "nice": false, "zero": false}, "axis": null}, "y": {"field": "v", "type": "quantitative", "scale": {"domain": [0, 500], "nice": false, "zero": false}, "axis": null}}},
      {"data": {"values": [{"s": 0.0595, "v": 163, "t": "4m"}]}, "mark": {"type": "text", "align": "left", "baseline": "alphabetic", "fontSize": 13.5, "color": "black"},
       "encoding": {"x": {"field": "s", "type": "quantitative", "scale": {"domain": [0.05, 0.41], "nice": false, "zero": false}, "axis": null}, "y": {"field": "v", "type": "quantitative", "scale": {"domain": [0, 500], "nice": false, "zero": false}, "axis": null}, "text": {"field": "t"}}},
      {"data": {"values": [{"s": 0.0595, "v": 163, "t": "2"}]}, "mark": {"type": "text", "align": "left", "baseline": "alphabetic", "fontSize": 9, "dx": 19, "dy": -6, "color": "black"},
       "encoding": {"x": {"field": "s", "type": "quantitative", "scale": {"domain": [0.05, 0.41], "nice": false, "zero": false}, "axis": null}, "y": {"field": "v", "type": "quantitative", "scale": {"domain": [0, 500], "nice": false, "zero": false}, "axis": null}, "text": {"field": "t"}}},
      {"data": {"values": [{"s": 0.0595, "v": 163, "t": "π"}]}, "mark": {"type": "text", "align": "left", "baseline": "alphabetic", "fontSize": 9, "dx": 19, "dy": 3, "color": "black"},
       "encoding": {"x": {"field": "s", "type": "quantitative", "scale": {"domain": [0.05, 0.41], "nice": false, "zero": false}, "axis": null}, "y": {"field": "v", "type": "quantitative", "scale": {"domain": [0, 500], "nice": false, "zero": false}, "axis": null}, "text": {"field": "t"}}},
      {"data": {"values": [{"s": 0.0595, "v": 163, "t": "thresh."}]}, "mark": {"type": "text", "align": "left", "baseline": "alphabetic", "fontSize": 13.5, "dx": 27, "color": "black"},
       "encoding": {"x": {"field": "s", "type": "quantitative", "scale": {"domain": [0.05, 0.41], "nice": false, "zero": false}, "axis": null}, "y": {"field": "v", "type": "quantitative", "scale": {"domain": [0, 500], "nice": false, "zero": false}, "axis": null}, "text": {"field": "t"}}},
      {"data": {"values": [{"s": 0.0878, "v": 137, "t": "↙"}]}, "mark": {"type": "text", "align": "center", "baseline": "middle", "fontSize": 11, "color": "black"},
       "encoding": {"x": {"field": "s", "type": "quantitative", "scale": {"domain": [0.05, 0.41], "nice": false, "zero": false}, "axis": null}, "y": {"field": "v", "type": "quantitative", "scale": {"domain": [0, 500], "nice": false, "zero": false}, "axis": null}, "text": {"field": "t"}}},
      {"data": {"values": [{"s": 0.1135, "v": 21.6, "t": "←\u00a0\u00a0σ[Low s expansion]"}]}, "mark": {"type": "text", "align": "left", "baseline": "alphabetic", "fontSize": 13, "color": "#cc0000"},
       "encoding": {"x": {"field": "s", "type": "quantitative", "scale": {"domain": [0.05, 0.41], "nice": false, "zero": false}, "axis": null}, "y": {"field": "v", "type": "quantitative", "scale": {"domain": [0, 500], "nice": false, "zero": false}, "axis": null}, "text": {"field": "t"}}}
     ]},
    {"width": 263, "height": 277,
     "resolve": {"axis": {"x": "independent", "y": "independent"}},
     "layer": [
      {"data": {"values": [{}]}, "mark": {"type": "point", "opacity": 0},
       "encoding": {
        "x": {"datum": 0.5, "type": "quantitative", "scale": {"domain": [0.3, 0.8], "nice": false, "zero": false}, "axis": {"orient": "bottom", "values": [0.3,0.4,0.5,0.6,0.7,0.8], "format": ".1f", "tickSize": -8, "labelPadding": 19, "title": "s\u00a0\u00a0\u00a0\u00a0(GeV²)", "titlePadding": 12}},
        "y": {"datum": 500, "type": "quantitative", "scale": {"domain": [200, 1500], "nice": false, "zero": false}, "axis": {"orient": "left", "values": [500,1000,1500], "format": "d", "tickSize": -8, "labelPadding": 16, "labelFontSize": 17, "title": "Cross Section\u00a0\u00a0(nb)", "titlePadding": 6}}
       }},
      {"data": {"values": [{}]}, "mark": {"type": "point", "opacity": 0},
       "encoding": {
        "x": {"datum": 0.5, "type": "quantitative", "scale": {"domain": [0.3, 0.8], "nice": false, "zero": false}, "axis": {"orient": "bottom", "values": [0.32,0.34,0.36,0.38,0.42,0.44,0.46,0.48,0.52,0.54,0.56,0.58,0.62,0.64,0.66,0.68,0.72,0.74,0.76,0.78], "tickSize": -4, "labels": false, "title": null}},
        "y": {"datum": 500, "type": "quantitative", "scale": {"domain": [200, 1500], "nice": false, "zero": false}, "axis": {"orient": "left", "values": [300,400,600,700,800,900,1100,1200,1300,1400], "tickSize": -4, "labels": false, "title": null}}
       }},
      {"data": {"values": [{}]}, "mark": {"type": "point", "opacity": 0},
       "encoding": {
        "x": {"datum": 0.5, "type": "quantitative", "scale": {"domain": [0.3, 0.8], "nice": false, "zero": false}, "axis": {"orient": "top", "values": [0.3,0.4,0.5,0.6,0.7,0.8], "tickSize": -8, "labels": false, "title": null}},
        "y": {"datum": 500, "type": "quantitative", "scale": {"domain": [200, 1500], "nice": false, "zero": false}, "axis": {"orient": "right", "values": [500,1000,1500], "tickSize": -8, "labels": false, "title": null}}
       }},
      {"data": {"values": [{}]}, "mark": {"type": "point", "opacity": 0},
       "encoding": {
        "x": {"datum": 0.5, "type": "quantitative", "scale": {"domain": [0.3, 0.8], "nice": false, "zero": false}, "axis": {"orient": "top", "values": [0.32,0.34,0.36,0.38,0.42,0.44,0.46,0.48,0.52,0.54,0.56,0.58,0.62,0.64,0.66,0.68,0.72,0.74,0.76,0.78], "tickSize": -4, "labels": false, "title": null}},
        "y": {"datum": 500, "type": "quantitative", "scale": {"domain": [200, 1500], "nice": false, "zero": false}, "axis": {"orient": "right", "values": [300,400,600,700,800,900,1100,1200,1300,1400], "tickSize": -4, "labels": false, "title": null}}
       }},
      {"data": {"name": "band"}, "mark": {"type": "area", "color": "#b2ee3a", "clip": true},
       "encoding": {"x": {"field": "s", "type": "quantitative", "scale": {"domain": [0.3, 0.8], "nice": false, "zero": false}, "axis": null}, "y": {"field": "lo", "type": "quantitative", "scale": {"domain": [200, 1500], "nice": false, "zero": false}, "axis": null}, "y2": {"field": "hi"}}},
      {"data": {"name": "exp"}, "mark": {"type": "rule", "strokeWidth": 1.2, "clip": true},
       "encoding": {"x": {"field": "s", "type": "quantitative", "scale": {"domain": [0.3, 0.8], "nice": false, "zero": false}, "axis": null}, "y": {"field": "lo", "type": "quantitative", "scale": {"domain": [200, 1500], "nice": false, "zero": false}, "axis": null}, "y2": {"field": "hi"},
        "color": {"condition": [{"test": "datum.series == 'TOF'", "value": "#003300"}, {"test": "datum.series == 'CMD-2 (02)' || datum.series == 'CMD'", "value": "#1515ff"}, {"test": "datum.series == 'DM1' || datum.series == 'DM2'", "value": "#990099"}], "value": "#3d6b3d"}}},
      {"data": {"name": "exp"}, "mark": {"type": "tick", "orient": "horizontal", "size": 6, "thickness": 1.2, "clip": true},
       "encoding": {"x": {"field": "s", "type": "quantitative", "scale": {"domain": [0.3, 0.8], "nice": false, "zero": false}, "axis": null}, "y": {"field": "lo", "type": "quantitative", "scale": {"domain": [200, 1500], "nice": false, "zero": false}, "axis": null},
        "color": {"condition": [{"test": "datum.series == 'TOF'", "value": "#003300"}, {"test": "datum.series == 'CMD-2 (02)' || datum.series == 'CMD'", "value": "#1515ff"}, {"test": "datum.series == 'DM1' || datum.series == 'DM2'", "value": "#990099"}], "value": "#3d6b3d"}}},
      {"data": {"name": "exp"}, "mark": {"type": "tick", "orient": "horizontal", "size": 6, "thickness": 1.2, "clip": true},
       "encoding": {"x": {"field": "s", "type": "quantitative", "scale": {"domain": [0.3, 0.8], "nice": false, "zero": false}, "axis": null}, "y": {"field": "hi", "type": "quantitative", "scale": {"domain": [200, 1500], "nice": false, "zero": false}, "axis": null},
        "color": {"condition": [{"test": "datum.series == 'TOF'", "value": "#003300"}, {"test": "datum.series == 'CMD-2 (02)' || datum.series == 'CMD'", "value": "#1515ff"}, {"test": "datum.series == 'DM1' || datum.series == 'DM2'", "value": "#990099"}], "value": "#3d6b3d"}}},
      {"data": {"name": "exp"}, "mark": {"type": "point", "opacity": 1, "strokeWidth": 1.2, "clip": true},
       "encoding": {"x": {"field": "s", "type": "quantitative", "scale": {"domain": [0.3, 0.8], "nice": false, "zero": false}, "axis": null}, "y": {"field": "v", "type": "quantitative", "scale": {"domain": [200, 1500], "nice": false, "zero": false}, "axis": null},
        "shape": {"field": "series", "type": "nominal", "scale": {"domain": ["TOF","CMD-2 (02)","CMD","OLYA (low)","OLYA (high)","DM1","DM2"], "range": ["circle","square","square","diamond","square","M0,-1L0.2245,-0.309L0.951,-0.309L0.3633,0.118L0.5878,0.809L0,0.382L-0.5878,0.809L-0.3633,0.118L-0.951,-0.309L-0.2245,-0.309Z","M0,-1L0.2245,-0.309L0.951,-0.309L0.3633,0.118L0.5878,0.809L0,0.382L-0.5878,0.809L-0.3633,0.118L-0.951,-0.309L-0.2245,-0.309Z"]}, "legend": null},
        "stroke": {"condition": [{"test": "datum.series == 'TOF'", "value": "#003300"}, {"test": "datum.series == 'CMD-2 (02)' || datum.series == 'CMD'", "value": "#0000ff"}, {"test": "datum.series == 'DM1' || datum.series == 'DM2'", "value": "#990099"}], "value": "#1a4a1a"},
        "fill": {"condition": [{"test": "datum.series == 'TOF'", "value": "#003300"}, {"test": "datum.series == 'CMD-2 (02)'", "value": "#0000ff"}, {"test": "datum.series == 'DM1'", "value": "#990099"}], "value": "#ffffff"},
        "size": {"condition": [{"test": "datum.series == 'TOF'", "value": 40}, {"test": "datum.series == 'CMD-2 (02)'", "value": 50}, {"test": "datum.series == 'OLYA (low)'", "value": 22}, {"test": "datum.series == 'DM1'", "value": 30}, {"test": "datum.series == 'DM2'", "value": 75}], "value": 70}
       }},
      {"data": {"name": "tau"}, "mark": {"type": "rule", "color": "#cc0000", "strokeWidth": 1.5, "clip": true},
       "encoding": {"x": {"field": "s", "type": "quantitative", "scale": {"domain": [0.3, 0.8], "nice": false, "zero": false}, "axis": null}, "y": {"field": "lo", "type": "quantitative", "scale": {"domain": [200, 1500], "nice": false, "zero": false}, "axis": null}, "y2": {"field": "hi"}}},
      {"data": {"name": "tau"}, "mark": {"type": "point", "shape": "triangle-up", "filled": true, "color": "#cc0000", "size": 50, "opacity": 1, "clip": true},
       "encoding": {"x": {"field": "s", "type": "quantitative", "scale": {"domain": [0.3, 0.8], "nice": false, "zero": false}, "axis": null}, "y": {"field": "v", "type": "quantitative", "scale": {"domain": [200, 1500], "nice": false, "zero": false}, "axis": null}}}
     ]}
  ], "spacing": 15}
],
"spacing": 27
}
